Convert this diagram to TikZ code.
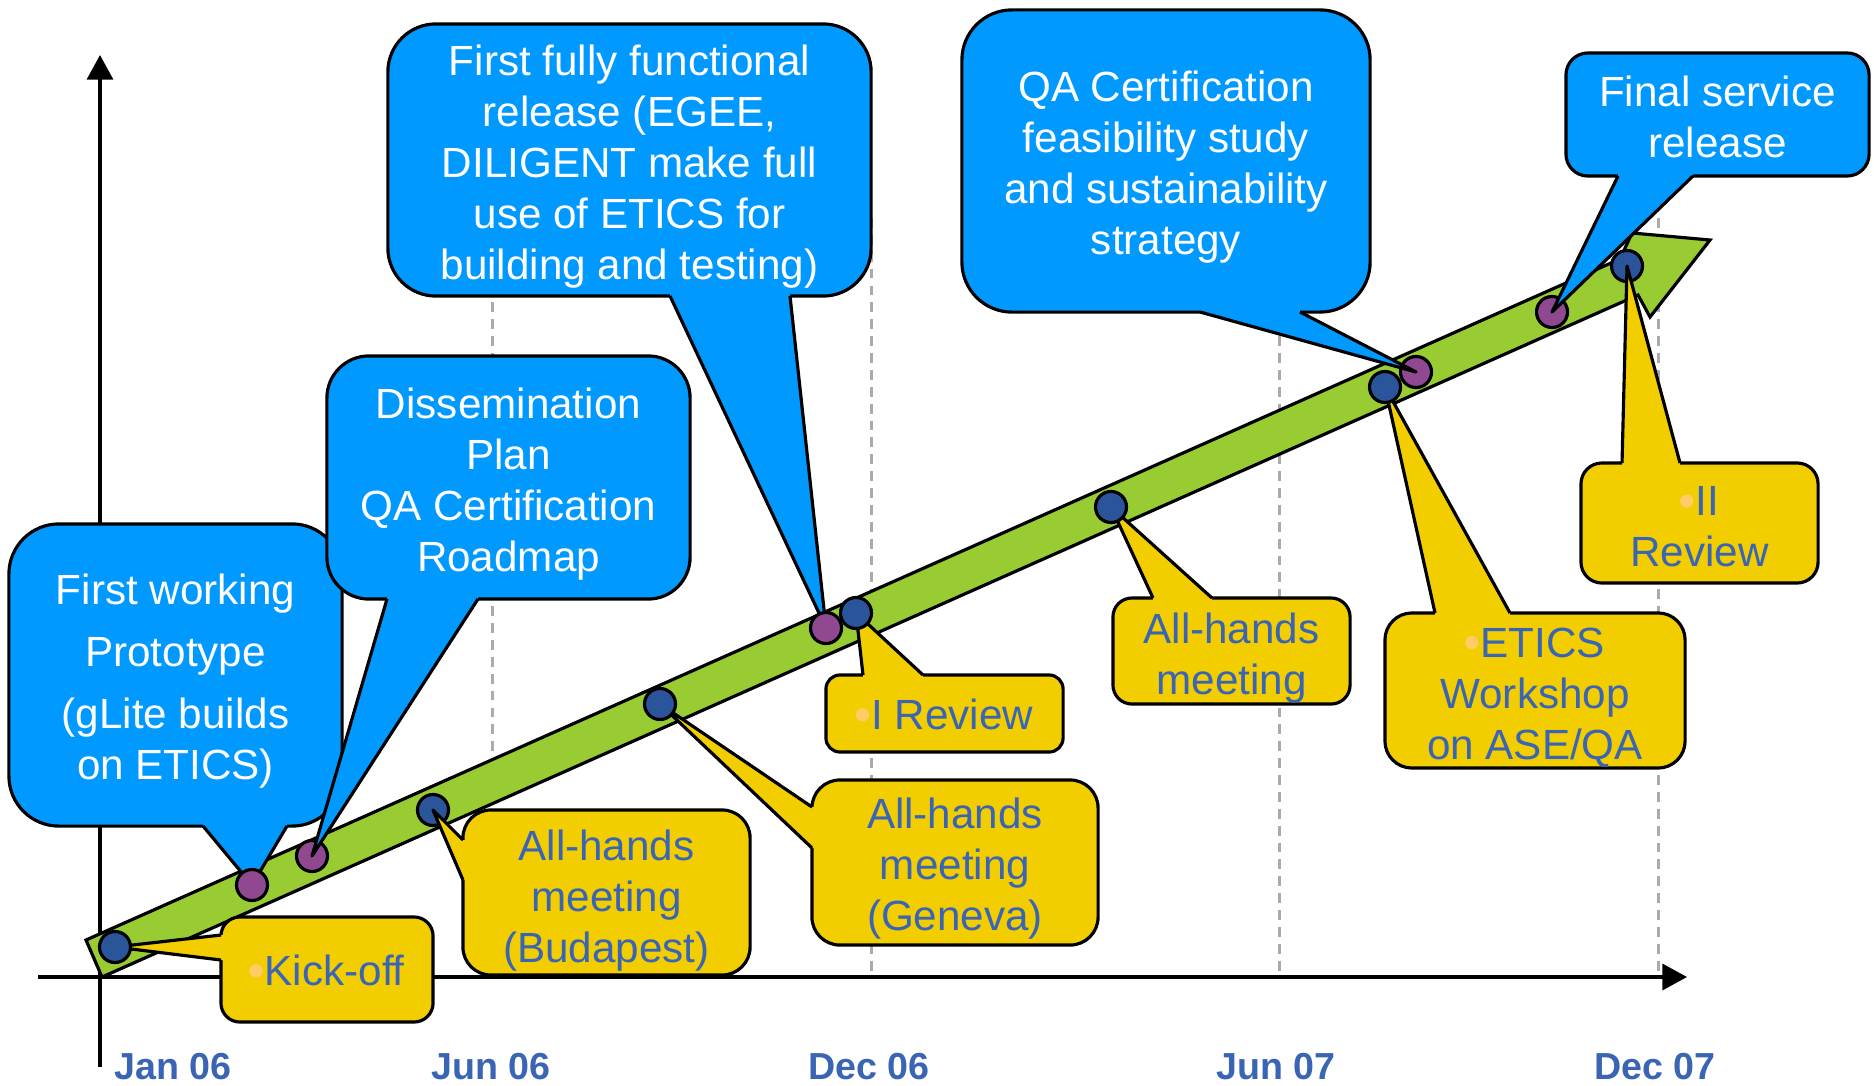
\documentclass[tikz,border=0pt]{standalone}
\usepackage{fontspec}
\setmainfont{Liberation Sans}
\usetikzlibrary{arrows.meta,calc}
\definecolor{callblue}{HTML}{0099FF}
\definecolor{callyel}{HTML}{F2CD00}
\definecolor{bandgreen}{HTML}{99CC33}
\definecolor{dotblue}{HTML}{2B559B}
\definecolor{dotpurple}{HTML}{904890}
\definecolor{txtblue}{HTML}{3A64B4}
\definecolor{bulletc}{HTML}{FFCC66}
\definecolor{gridgray}{HTML}{ABABAB}
\newcommand{\bul}{\tikz[baseline=0pt]{\fill[bulletc] (0pt,4.2pt) circle (1.9pt);}\kern0.6pt}
\newcommand{\calltail}[5]{%
  \fill[#1] ($(#2)+#5$) -- (#2) -- (#4) -- (#3) -- ($(#3)+#5$) -- cycle;
  \draw[tailline] (#2) -- (#4) -- (#3);}
\tikzset{
  box/.style={draw=black, line width=0.9pt, rectangle, inner sep=0pt},
  bluebox/.style={box, fill=callblue},
  yelbox/.style={box, fill=callyel},
  ctext/.style={inner sep=0pt, align=center, font=\fontsize{12}{14.5}\selectfont},
  bluetext/.style={ctext, text=white},
  yeltext/.style={ctext, text=txtblue},
  dotb/.style={circle, draw=black, line width=0.9pt, fill=dotblue, minimum size=0.31cm, inner sep=0pt},
  dotp/.style={dotb, fill=dotpurple},
  tailline/.style={draw=black, line width=0.9pt, line join=round},
  gridline/.style={gridgray, line width=0.85pt, dash pattern=on 2.8pt off 2pt},
  axisline/.style={line width=0.9pt, -{Triangle[length=7pt,width=7.4pt]}},
  datelbl/.style={text=txtblue, font=\fontsize{10.7}{12}\selectfont\bfseries, inner sep=0pt},
}
\begin{document}
\begin{tikzpicture}[x=0.01cm, y=-0.01cm]
\useasboundingbox (0,0) rectangle (1874,1085);
% dot positions
\coordinate (q1) at (115,947);
\coordinate (p1) at (252,885);
\coordinate (p2) at (312,856);
\coordinate (q2) at (433,810);
\coordinate (q3) at (660,704);
\coordinate (p3) at (826,628);
\coordinate (q4) at (856,613);
\coordinate (q5) at (1111,507);
\coordinate (q6) at (1385,387);
\coordinate (p4) at (1416,372);
\coordinate (p5) at (1552,312);
\coordinate (q7) at (1627,266);
% grid lines
\draw[gridline] (492,218) -- (492,977);
\draw[gridline] (871,218) -- (871,977);
\draw[gridline] (1279,218) -- (1279,977);
\draw[gridline] (1658,218) -- (1658,977);
% axes
\coordinate (yb) at (100,1067);
\coordinate (yt) at (100,55);
\coordinate (xl) at (38,977);
\coordinate (xr) at (1687,977);
\draw[axisline] (yb) -- (yt);
\draw[axisline] (xl) -- (xr);
% band arrow
\draw[fill=bandgreen, line width=0.9pt, line join=miter]
  (86,940) -- (1620,259) -- (1632,233) -- (1710,240) -- (1650,317) -- (1638,295) -- (102,977) -- cycle;
% dots under callouts
\node[dotp] (dp2) at (p2) {};
\node[dotb] (dq2) at (q2) {};
\node[dotp] (dp4) at (p4) {};
\node[dotp] (dp5) at (p5) {};
\node[dotb] (dq7) at (q7) {};
% blue callouts
\node[bluebox, minimum width=3.33cm, minimum height=3.02cm, rounded corners=0.5cm] (b1) at (175.5,675) {};
\calltail{callblue}{203,826}{287,826}{p1}{(0,-4)}
\node[bluetext] (b1t) at (175.5,681)
  {First working\\[3.1pt]Prototype\\[3.1pt](gLite builds\\on ETICS)};
\node[bluebox, minimum width=3.63cm, minimum height=2.43cm, rounded corners=0.42cm] (b2) at (508.5,477.5) {};
\calltail{callblue}{387,599}{478,599}{p2}{(0,-4)}
\node[bluetext] (b2t) at (508.5,484.5) {Dissemination\\Plan\\QA Certification\\Roadmap};
\node[bluebox, minimum width=4.83cm, minimum height=2.72cm, rounded corners=0.48cm] (b3) at (629.5,160) {};
\calltail{callblue}{670,296}{790,296}{p3}{(0,-4)}
\node[bluetext] (b3t) at (629.5,167)
  {First fully functional\\release (EGEE,\\DILIGENT make full\\use of ETICS for\\building and testing)};
\node[bluebox, minimum width=4.08cm, minimum height=3.02cm, rounded corners=0.5cm] (b4) at (1166,161) {};
\calltail{callblue}{1200,312}{1300,312}{p4}{(0,-4)}
\node[bluetext] (b4t) at (1166,167) {QA Certification\\feasibility study\\and sustainability\\strategy};
\node[bluebox, minimum width=3.03cm, minimum height=1.23cm, rounded corners=0.22cm] (b5) at (1717.5,114.5) {};
\calltail{callblue}{1618,176}{1693,176}{p5}{(0,-4)}
\node[bluetext] (b5t) at (1717.5,117) {Final service\\release};
% yellow callouts
\node[yelbox, minimum width=2.12cm, minimum height=1.05cm, rounded corners=0.19cm] (y1) at (327,969.5) {};
\calltail{callyel}{221,935}{221,960}{q1}{(4,0)}
\node[yeltext] (y1t) at (327,970.5) {\bul Kick-off};
\node[yelbox, minimum width=2.87cm, minimum height=1.65cm, rounded corners=0.28cm] (y2) at (606.5,892.5) {};
\calltail{callyel}{463,840}{463,880}{q2}{(4,0)}
\node[yeltext] (y2t) at (606.5,900.5) {All-hands\\meeting\\(Budapest)};
\node[yelbox, minimum width=2.86cm, minimum height=1.65cm, rounded corners=0.28cm] (y3) at (955,862.5) {};
\calltail{callyel}{812,807}{812,848}{q3}{(4,0)}
\node[yeltext] (y3t) at (955,868.5) {All-hands\\meeting\\(Geneva)};
\node[yelbox, minimum width=2.37cm, minimum height=0.77cm, rounded corners=0.14cm] (y4) at (944.5,713.5) {};
\calltail{callyel}{863,675}{923,675}{q4}{(0,4)}
\node[yeltext] (y4t) at (944.5,714.5) {\bul I Review};
\node[yelbox, minimum width=2.37cm, minimum height=1.06cm, rounded corners=0.19cm] (y5) at (1231.5,651) {};
\calltail{callyel}{1153,598}{1212,598}{q5}{(0,4)}
\node[yeltext] (y5t) at (1231.5,658) {All-hands\\meeting};
\node[yelbox, minimum width=3.00cm, minimum height=1.55cm, rounded corners=0.27cm] (y6) at (1535,690.5) {};
\calltail{callyel}{1435,613}{1510,613}{q6}{(0,4)}
\node[yeltext] (y6t) at (1535,697.5) {\bul ETICS\\Workshop\\on ASE/QA};
\node[yelbox, minimum width=2.37cm, minimum height=1.20cm, rounded corners=0.21cm] (y7) at (1699.5,523) {};
\calltail{callyel}{1622,463}{1680,463}{q7}{(0,4)}
\node[yeltext] (y7t) at (1699.5,527) {\bul II\\Review};
% dots over callouts
\node[dotb] (dq1) at (q1) {};
\node[dotp] (dp1) at (p1) {};
\node[dotp] (dp3) at (p3) {};
\node[dotb] (dq4) at (q4) {};
\node[dotb] (dq6) at (q6) {};
\node[dotb] (dq3) at (q3) {};
\node[dotb] (dq5) at (q5) {};
% date labels
\node[datelbl] (l1) at (173,1067) {Jan 06};
\node[datelbl] (l2) at (491,1067) {Jun 06};
\node[datelbl] (l3) at (869,1067) {Dec 06};
\node[datelbl] (l4) at (1276,1067) {Jun 07};
\node[datelbl] (l5) at (1655,1067) {Dec 07};
\end{tikzpicture}
\end{document}
